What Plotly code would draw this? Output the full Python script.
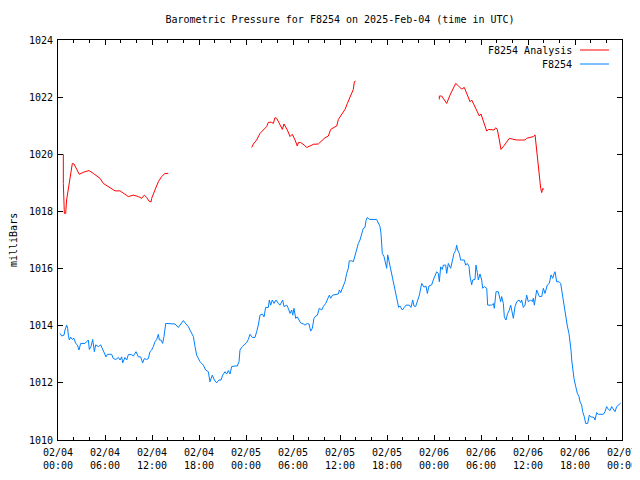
import pandas as pd
import plotly.graph_objects as go

START = pd.Timestamp("2025-02-04 00:00")

# Analysis (red) segments: hours since 02/04 00:00, pressure (mb)
ana1_h = [0.68, 0.68, 0.81, 0.98, 1.10, 1.40, 1.66, 1.83, 2.04, 2.72, 3.23, 3.96, 4.51, 4.94, 5.36,
          5.79, 6.43, 6.85, 7.28, 7.92, 8.43, 8.98, 9.62, 10.26, 10.68, 11.02, 11.32, 11.62, 11.87,
          11.96, 12.38, 12.81, 13.23, 13.66, 14.08]
ana1_v = [1020.00, 1018.98, 1017.93, 1017.93, 1018.40, 1019.00, 1019.50, 1019.68, 1019.66, 1019.30,
          1019.37, 1019.43, 1019.33, 1019.24, 1019.16, 1018.98, 1018.87, 1018.77, 1018.72, 1018.72,
          1018.61, 1018.52, 1018.57, 1018.52, 1018.46, 1018.57, 1018.49, 1018.36, 1018.33, 1018.46,
          1018.75, 1019.04, 1019.22, 1019.33, 1019.33]
ana2_h = [24.73, 24.94, 25.36, 25.79, 26.21, 26.64, 26.85, 27.28, 27.49, 27.70, 27.92, 28.34, 28.64,
          28.85, 29.28, 29.62, 29.91, 30.26, 30.55, 30.68, 30.98, 31.40, 31.75, 32.17, 32.60, 33.23,
          33.66, 34.09, 34.51, 34.81, 35.23, 35.58, 35.79, 36.22, 36.64, 36.94, 37.28, 37.70, 37.83,
          38.00]
ana2_v = [1020.24, 1020.36, 1020.50, 1020.73, 1020.85, 1020.97, 1021.12, 1021.12, 1021.08, 1021.28,
          1021.26, 1021.02, 1020.87, 1021.06, 1020.85, 1020.62, 1020.70, 1020.50, 1020.29, 1020.41,
          1020.41, 1020.33, 1020.24, 1020.29, 1020.35, 1020.36, 1020.46, 1020.58, 1020.64, 1020.87,
          1020.94, 1020.99, 1021.22, 1021.40, 1021.57, 1021.78, 1022.02, 1022.27, 1022.54, 1022.56]
ana3_h = [48.68, 48.68, 48.98, 49.28, 49.62, 50.04, 50.47, 50.77, 51.10, 51.53, 51.87, 52.17, 52.60,
          52.81, 53.11, 53.45, 53.79, 54.00, 54.30, 54.51, 54.73, 54.94, 55.36, 55.66, 55.88, 56.08,
          56.34, 56.55, 56.85, 57.28, 57.62, 58.04, 58.56, 59.62, 59.83, 60.26, 60.68, 60.90, 61.11,
          61.32, 61.45, 61.62, 61.75, 61.87, 62.04]
ana3_v = [1021.92, 1022.04, 1022.04, 1021.90, 1021.78, 1022.07, 1022.31, 1022.48, 1022.40, 1022.28,
          1022.34, 1022.13, 1021.84, 1021.90, 1021.72, 1021.49, 1021.34, 1021.41, 1021.14, 1020.97,
          1020.81, 1020.87, 1020.87, 1020.85, 1020.93, 1020.87, 1020.50, 1020.17, 1020.27, 1020.44,
          1020.56, 1020.53, 1020.50, 1020.50, 1020.56, 1020.59, 1020.62, 1020.68, 1020.15, 1019.57,
          1019.10, 1018.81, 1018.66, 1018.80, 1018.78]

# Observed (blue)
obs_h = [0.26, 0.47, 0.77, 0.89, 1.11, 1.23, 1.32, 1.45, 1.62, 1.83, 2.04, 2.26, 2.47, 2.68, 2.89,
         3.45, 3.66, 3.87, 4.00, 4.21, 4.43, 4.64, 4.81, 5.15, 5.45, 5.70, 5.91, 6.13, 6.30, 6.85,
         7.06, 7.40, 7.70, 7.92, 8.13, 8.26, 8.55, 8.77, 8.98, 9.40, 9.62, 9.96, 10.26, 10.55, 10.81,
         11.02, 11.32, 11.53, 11.74, 11.96, 12.17, 12.38, 12.60, 12.81, 12.94, 13.15, 13.36, 13.53,
         13.75, 14.08, 14.51, 14.94, 15.36, 15.70, 16.00, 16.34, 16.64,
         16.85, 17.28, 17.49, 17.70, 18.13, 18.55, 18.85, 19.19, 19.40, 19.70, 19.96, 20.26, 20.55,
         20.81, 21.02, 21.32, 21.53, 21.74, 21.96, 22.17, 22.60, 22.89, 23.11, 23.23, 23.53, 23.79,
         24.09, 24.30, 24.51, 24.81, 25.15, 25.36, 25.57, 25.79, 26.09, 26.30, 26.51, 26.85, 26.98,
         27.15, 27.36, 27.58, 27.83, 28.13,
         28.34, 28.68, 28.85, 29.20, 29.40, 29.62, 29.83, 29.96, 30.13, 30.34, 30.55, 30.77, 30.98,
         31.32, 31.53, 31.83, 32.04, 32.26, 32.47, 32.68, 32.90, 33.11, 33.36, 33.66, 33.87, 34.17,
         34.38, 34.64, 34.81, 35.06, 35.79, 35.92, 36.09, 36.34, 36.64, 36.85, 37.06, 37.19, 37.49,
         37.70, 37.91, 38.13, 38.34, 38.55, 38.77, 38.98, 39.19, 39.32, 39.49, 39.75, 40.68, 40.90,
         41.11, 41.23, 41.32, 41.40, 41.62, 41.83, 41.96, 42.09, 42.26, 42.51, 42.73, 42.94, 43.15,
         43.32, 43.49, 43.66, 43.96, 44.21, 44.43, 44.85, 45.06, 45.28, 45.45, 45.66, 45.92, 46.13,
         46.43, 46.72, 46.98, 47.15, 47.36, 47.70, 47.91, 48.13, 48.34, 48.55, 48.68, 48.85, 49.06,
         49.19, 49.49, 49.62, 49.83, 50.13, 50.34, 50.55, 50.77, 50.89, 51.02, 51.23, 51.40, 51.87,
         52.04, 52.26, 52.47, 52.60, 52.81, 52.94, 53.23, 53.36, 53.53, 53.66, 53.87, 54.09, 54.21,
         54.43, 54.73, 54.85, 55.36, 55.58, 55.70, 55.92, 56.21, 56.34, 56.51, 56.64, 56.85, 56.98,
         57.19, 57.40, 57.62, 57.79, 58.00, 58.13, 58.34, 58.56, 58.85, 59.06, 59.19, 59.40, 59.62,
         59.83, 60.04, 60.34, 60.55,
         60.68, 60.81, 61.11, 61.45, 61.75, 61.96, 62.17, 62.47, 62.72, 62.94, 63.15, 63.32, 63.45,
         63.66, 63.96, 64.17, 64.30, 64.51, 64.72, 64.85, 65.02, 65.23, 65.36, 65.49, 65.58, 65.70,
         65.87, 66.09, 66.30, 66.51, 66.64, 66.85, 66.98, 67.19, 67.36, 67.62, 67.83, 68.00, 68.43,
         68.55, 68.77, 68.98, 69.62, 69.83, 70.04, 70.26, 70.47, 70.68, 70.89, 71.11, 71.32, 71.53,
         71.83]
obs_v = [1013.73, 1013.64, 1013.67, 1013.85, 1014.02, 1013.91, 1013.67, 1013.50, 1013.60, 1013.52,
         1013.56, 1013.38, 1013.33, 1013.15, 1013.38, 1013.38, 1013.44, 1013.50, 1013.17, 1013.27,
         1013.52, 1013.09, 1013.33, 1013.27, 1013.33, 1013.17, 1013.09, 1012.91, 1013.00, 1013.00,
         1012.85, 1012.82, 1012.89, 1012.80, 1012.91, 1012.70, 1012.89, 1012.80, 1012.99, 1012.99,
         1012.94, 1013.09, 1012.91, 1012.91, 1012.70, 1012.85, 1012.82, 1012.85, 1013.09, 1013.15,
         1013.27, 1013.44, 1013.52, 1013.70, 1013.50, 1013.50, 1013.38, 1013.62, 1014.08, 1014.08,
         1014.08, 1014.06, 1013.94, 1014.06, 1014.18, 1014.06, 1013.97,
         1013.85, 1013.62, 1013.27, 1012.97, 1012.74, 1012.62, 1012.45, 1012.39, 1012.04, 1012.27,
         1012.10, 1012.00, 1012.10, 1012.10, 1012.27, 1012.39, 1012.31, 1012.43, 1012.31, 1012.57,
         1012.59, 1012.59, 1012.74, 1013.15, 1013.27, 1013.33, 1013.41, 1013.52, 1013.70, 1013.59,
         1013.59, 1013.79, 1014.02, 1014.37, 1014.41, 1014.31, 1014.64, 1014.64, 1014.90, 1014.72,
         1014.90, 1014.78, 1014.90, 1014.78,
         1014.72, 1014.90, 1014.67, 1014.72, 1014.61, 1014.43, 1014.55, 1014.37, 1014.61, 1014.26,
         1014.31, 1014.20, 1014.10, 1014.06, 1014.02, 1014.08, 1014.06, 1013.81, 1013.91, 1014.26,
         1014.34, 1014.37, 1014.61, 1014.55, 1014.67, 1014.78, 1014.92, 1015.07, 1014.96, 1015.07,
         1015.11, 1015.25, 1015.16, 1015.31, 1015.54, 1015.83, 1016.01, 1016.27, 1016.27, 1016.24,
         1016.48, 1016.71, 1016.88, 1017.00, 1017.23, 1017.41, 1017.44, 1017.68, 1017.79, 1017.72,
         1017.72, 1017.60, 1017.47, 1017.23, 1016.88, 1016.53, 1016.42, 1016.12, 1016.01, 1016.48,
         1016.24, 1015.95, 1015.66, 1015.37, 1015.07, 1014.84, 1014.64, 1014.69, 1014.55, 1014.64,
         1014.72, 1014.72, 1014.64, 1014.90, 1014.69, 1014.67, 1014.90, 1015.07,
         1015.48, 1015.35, 1015.39, 1015.13, 1015.39, 1015.43, 1015.60, 1015.78, 1015.89, 1015.83,
         1015.54, 1016.06, 1015.97, 1016.12, 1016.12, 1015.83, 1016.18, 1016.01, 1016.30, 1016.53,
         1016.63, 1016.82, 1016.65, 1016.53, 1016.30, 1016.30, 1016.12, 1016.18, 1016.07, 1015.72,
         1015.43, 1015.60, 1015.62, 1016.12, 1015.86, 1015.60, 1015.81, 1015.60, 1015.31, 1015.37,
         1015.31, 1014.72, 1014.72, 1014.78, 1014.61, 1015.19, 1015.19, 1015.02, 1014.84, 1015.02,
         1014.78, 1014.31, 1014.20, 1014.43, 1014.55, 1014.72, 1014.37, 1014.26, 1014.67, 1014.84,
         1014.90, 1014.81, 1014.90, 1014.64, 1014.72, 1015.07, 1014.84, 1014.90, 1014.84,
         1014.96, 1014.72, 1015.25, 1015.02, 1015.02, 1015.31, 1015.13, 1015.43, 1015.48, 1015.78,
         1015.66, 1015.81, 1015.89, 1015.54, 1015.54, 1015.48, 1015.25, 1014.78, 1014.55, 1014.20,
         1013.99, 1013.73, 1013.50, 1013.15, 1012.80, 1012.45, 1012.16, 1011.87, 1011.63, 1011.52,
         1011.34, 1011.22, 1010.99, 1010.81, 1010.58, 1010.58, 1010.87, 1010.81, 1010.79, 1010.70,
         1010.96, 1010.90, 1010.90, 1010.99, 1011.17, 1011.07, 1011.03, 1011.17, 1011.07, 1010.99,
         1011.17, 1011.22, 1011.29]

tick_hours = [0, 6, 12, 18, 24, 30, 36, 42, 48, 54, 60, 66, 72]
tick_text = ["02/04<br>00:00", "02/04<br>06:00", "02/04<br>12:00", "02/04<br>18:00",
             "02/05<br>00:00", "02/05<br>06:00", "02/05<br>12:00", "02/05<br>18:00",
             "02/06<br>00:00", "02/06<br>06:00", "02/06<br>12:00", "02/06<br>18:00",
             "02/07<br>00:00"]
y_ticks = [1010, 1012, 1014, 1016, 1018, 1020, 1022, 1024]


def to_time(hours):
    return [START + pd.Timedelta(hours=h) for h in hours]


ana_x = to_time(ana1_h) + [None] + to_time(ana2_h) + [None] + to_time(ana3_h)
ana_y = ana1_v + [None] + ana2_v + [None] + ana3_v

RED = "#ff0000"
BLUE = "#0080ff"
FONT = dict(family="DejaVu Sans Mono", size=10, color="black")

# the page body has an 8px margin, so the figure is drawn offset by (8, 8)
OFF = 8
PLOT_W = 564  # plot-area width in px

fig = go.Figure()
fig.add_trace(go.Scatter(x=ana_x, y=ana_y, mode="lines", name="F8254 Analysis",
                         line=dict(color=RED, width=1), connectgaps=False, showlegend=False))
fig.add_trace(go.Scatter(x=to_time(obs_h), y=obs_v, mode="lines", name="F8254",
                         line=dict(color=BLUE, width=1), showlegend=False))

fig.update_layout(
    width=640, height=480,
    margin=dict(l=58 - OFF, r=640 + OFF - 622, t=40 - OFF, b=480 + OFF - 440),
    paper_bgcolor="white", plot_bgcolor="white",
    font=FONT,
    title=dict(text="Barometric Pressure for F8254 on 2025-Feb-04 (time in UTC)",
               x=0.5, xref="paper", xanchor="center",
               y=1 - (19 - OFF) / 480, yref="container", yanchor="middle",
               font=FONT),
    xaxis=dict(
        type="date",
        range=[START, START + pd.Timedelta(hours=72)],
        tickmode="array", tickvals=to_time(tick_hours), ticktext=tick_text,
        ticks="inside", ticklen=5, tickcolor="black", tickwidth=1,
        showline=True, linecolor="black", linewidth=1, mirror="ticks",
        showgrid=False, zeroline=False,
        ticklabelstandoff=3,
        minor=dict(ticks="inside", ticklen=3, tickcolor="black",
                   tick0=START, dtick=2 * 3600 * 1000, showgrid=False),
        tickfont=FONT,
    ),
    yaxis=dict(
        range=[1010, 1024],
        tickmode="array", tickvals=y_ticks, ticktext=[str(v) for v in y_ticks],
        ticks="inside", ticklen=5, tickcolor="black", tickwidth=1,
        showline=True, linecolor="black", linewidth=1, mirror="ticks",
        showgrid=False, zeroline=False,
        ticklabelstandoff=2,
        tickfont=FONT,
    ),
)

# y-axis title (page x ~13)
fig.add_annotation(text="milliBars", textangle=-90, xref="paper", yref="paper",
                   x=(13 - 58) / PLOT_W, y=0.5, xanchor="center", yanchor="middle",
                   showarrow=False, font=FONT)

# gnuplot-style key (text right, sample line right of it)
legend_items = [("F8254 Analysis", RED, 50), ("F8254", BLUE, 64)]
for label, color, ypx in legend_items:
    ypaper = (440 - ypx) / 400
    fig.add_annotation(text=label, xref="paper", yref="paper", x=(574 - 58) / PLOT_W, y=ypaper,
                       xanchor="right", yanchor="middle", showarrow=False, font=FONT)
    fig.add_shape(type="line", xref="paper", yref="paper",
                  x0=(580 - 58) / PLOT_W, x1=(609 - 58) / PLOT_W, y0=ypaper, y1=ypaper,
                  line=dict(color=color, width=1))

fig.write_html("out.html", config={"displayModeBar": False})
